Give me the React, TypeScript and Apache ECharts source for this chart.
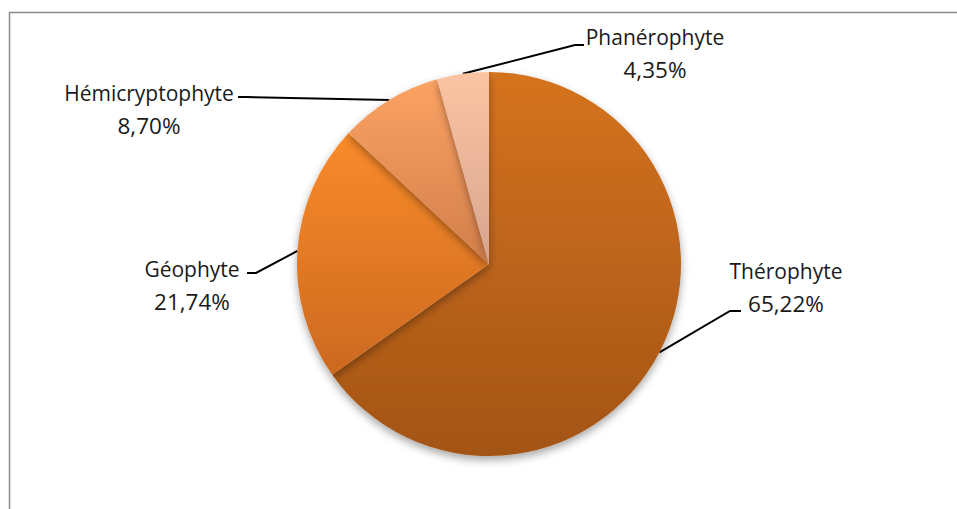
import React, { useEffect, useRef } from "react";
import * as echarts from "echarts";

const categories = ["Thérophyte", "Géophyte", "Hémicryptophyte", "Phanérophyte"];
const values = [65.22, 21.74, 8.7, 4.35];

const topColors = ["#D5731F", "#FA8B2B", "#FCA363", "#FCC4A3"];
const bottomColors = ["#A35416", "#CC691F", "#D27E4B", "#D6A48F"];

// label block centre positions and leader-line ends (layout only)
const labelPos = [
  { x: 786, y: 287, mid: [730, 311], end: [741, 311] },
  { x: 192, y: 285, mid: [256, 273], end: [247, 273] },
  { x: 149, y: 109, mid: [246, 97], end: [238, 97] },
  { x: 655, y: 53, mid: [575, 45], end: [584, 45] },
];

const fmt = (v: number) => v.toFixed(2).replace(".", ",") + "%";

export default function App() {
  const ref = useRef<HTMLDivElement>(null);
  useEffect(() => {
    document.body.style.margin = "0";
    const chart = echarts.init(ref.current!, undefined, { renderer: "svg" });
    chart.setOption({
      animation: false,
      backgroundColor: "#ffffff",
      graphic: [
        {
          type: "rect",
          shape: { x: 9.5, y: 12.5, width: 1200, height: 800 },
          style: { fill: "none", stroke: "#8c8c8c", lineWidth: 1.5 },
          silent: true,
          z: -1,
        },
      ],
      series: [
        {
          type: "pie",
          center: [489, 264],
          radius: [0, 192],
          startAngle: 90,
          clockwise: true,
          data: categories.map((name, i) => ({
            name,
            value: values[i],
            itemStyle: {
              color: new echarts.graphic.LinearGradient(0, 0, 0, 1, [
                { offset: 0, color: topColors[i] },
                { offset: 1, color: bottomColors[i] },
              ]),
            },
          })),
          itemStyle: {
            borderWidth: 0,
            shadowBlur: 8,
            shadowOffsetY: 4,
            shadowColor: "rgba(0,0,0,0.35)",
          },
          label: {
            show: true,
            position: "outside",
            formatter: (p: any) => `{n|${p.name}}\n{v|${fmt(p.value)}}`,
            fontFamily: "'Open Sans', sans-serif",
            color: "#1a1a1a",
            align: "center",
            rich: {
              n: {
                fontFamily: "'Open Sans', sans-serif",
                fontSize: 21,
                lineHeight: 33,
                color: "#1a1a1a",
                align: "center",
              },
              v: {
                fontFamily: "'Open Sans', sans-serif",
                fontSize: 22.5,
                lineHeight: 33,
                color: "#1a1a1a",
                align: "center",
              },
            },
          },
          labelLine: {
            show: true,
            length: 20,
            length2: 10,
            smooth: false,
            lineStyle: { color: "#000000", width: 2 },
          },
          labelLayout: (params: any) => {
            const lp = labelPos[params.dataIndex];
            const p0 = params.labelLinePoints ? params.labelLinePoints[0] : lp.mid;
            return {
              x: lp.x,
              y: lp.y,
              align: "center",
              verticalAlign: "middle",
              labelLinePoints: [p0, lp.mid, lp.end],
            };
          },
        },
      ],
    });
    return () => chart.dispose();
  }, []);
  return <div ref={ref} style={{ width: 957, height: 509 }} />;
}
